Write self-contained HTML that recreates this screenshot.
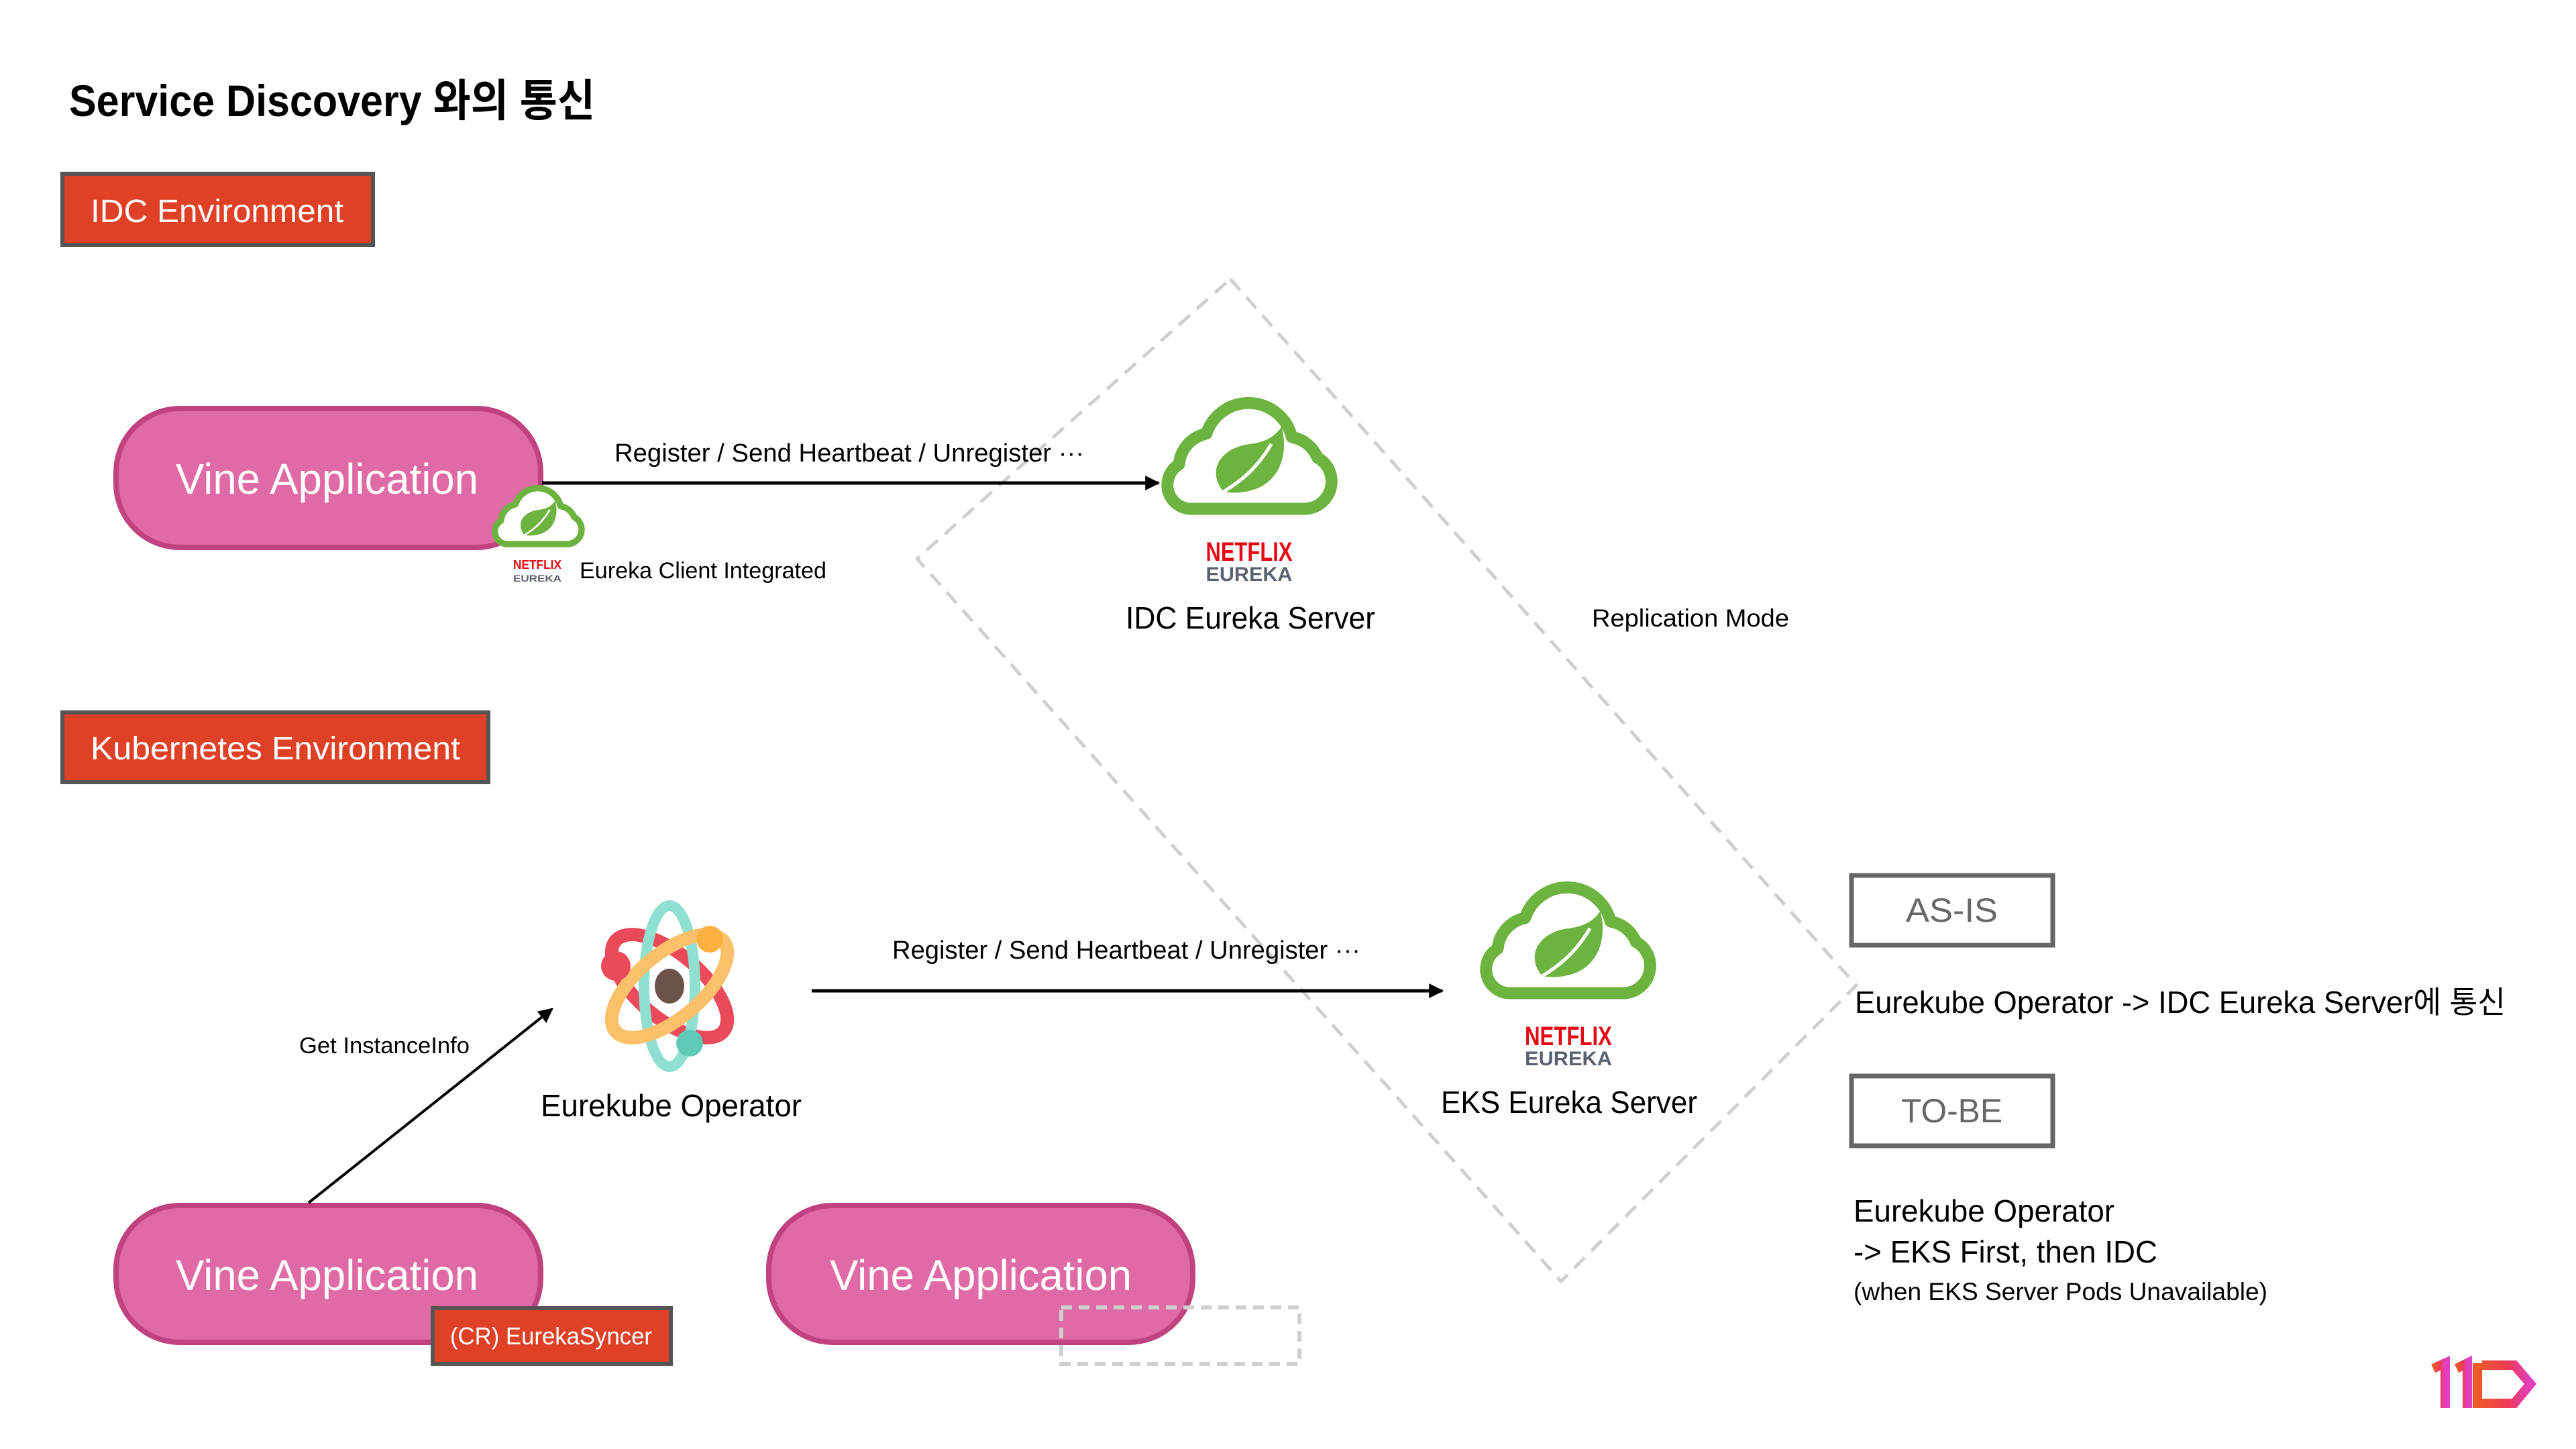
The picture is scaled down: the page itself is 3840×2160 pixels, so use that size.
<!DOCTYPE html>
<html><head><meta charset="utf-8"><style>
html,body{margin:0;padding:0;background:#fff;}
svg{display:block;}
text{font-family:"Liberation Sans","Noto Sans CJK KR",sans-serif;}
</style></head><body>
<svg width="3840" height="2160" viewBox="0 0 3840 2160" xmlns="http://www.w3.org/2000/svg">
<defs>
<marker id="ah" markerWidth="10" markerHeight="10" refX="9" refY="5" orient="auto" markerUnits="userSpaceOnUse" viewBox="0 0 10 10">
<path d="M0,0 L10,5 L0,10 z" fill="#000"/></marker>
<marker id="ah2" viewBox="0 0 10 10" refX="9" refY="5" markerWidth="22" markerHeight="22" orient="auto" markerUnits="userSpaceOnUse"><path d="M0,0 L10,5 L0,10 z" fill="#000"/></marker>
<symbol id="cloud" viewBox="0 0 110 76">
<path d="M22,70 H88 A16,16 0 0 0 95,40 A20,20 0 0 0 80,28 A26,26 0 0 0 30,26 A20,20 0 0 0 14,44 A14,14 0 0 0 22,70 Z" fill="#fff" stroke="#6db33f" stroke-width="7" stroke-linejoin="round"/>
<path d="M40,60 C30,48 38,34 56,32 C64,31 70,28 74,22 C78,36 74,52 60,58 C52,61 46,61 40,60 Z" fill="#6db33f"/>
<path d="M40,60 C50,54 60,46 68,32" fill="none" stroke="#fff" stroke-width="2"/>
</symbol>
<linearGradient id="lg" x1="0" x2="1" y1="0" y2="0"><stop offset="0" stop-color="#f05a28"/><stop offset="0.6" stop-color="#ee3a5a"/><stop offset="1" stop-color="#e040c0"/></linearGradient>
</defs>

<!-- title -->
<text x="103" y="173" font-size="66" font-weight="bold" textLength="784" lengthAdjust="spacingAndGlyphs">Service Discovery 와의 통신</text>

<!-- env labels -->
<rect x="93" y="259" width="463" height="106" fill="#df4126" stroke="#555" stroke-width="6"/>
<text x="135" y="331" font-size="48" fill="#fff" textLength="377" lengthAdjust="spacingAndGlyphs">IDC Environment</text>
<rect x="93" y="1062" width="635" height="104" fill="#df4126" stroke="#555" stroke-width="6"/>
<text x="135" y="1132" font-size="48" fill="#fff" textLength="551" lengthAdjust="spacingAndGlyphs">Kubernetes Environment</text>

<!-- dashed diamond -->
<path d="M1834,416 L2767,1469 L2327,1910 L1367,833 Z" fill="none" stroke="#cfcfcf" stroke-width="5" stroke-dasharray="22 14"/>

<!-- pills -->
<rect x="173" y="609" width="633" height="207" rx="95" fill="#e06aa6" stroke="#c0427f" stroke-width="8"/>
<text x="262" y="736" font-size="64" fill="#fff" textLength="451" lengthAdjust="spacingAndGlyphs">Vine Application</text>
<rect x="173" y="1797" width="633" height="204" rx="95" fill="#e06aa6" stroke="#c0427f" stroke-width="8"/>
<text x="262" y="1923" font-size="64" fill="#fff" textLength="451" lengthAdjust="spacingAndGlyphs">Vine Application</text>
<rect x="1146" y="1797" width="632" height="204" rx="95" fill="#e06aa6" stroke="#c0427f" stroke-width="8"/>
<text x="1237" y="1923" font-size="64" fill="#fff" textLength="450" lengthAdjust="spacingAndGlyphs">Vine Application</text>
<rect x="1582" y="1949" width="355" height="84" fill="none" stroke="#cfcfcf" stroke-width="6" stroke-dasharray="16 10"/>

<!-- CR box -->
<rect x="645" y="1950" width="355" height="83" fill="#df4126" stroke="#555" stroke-width="6"/>
<text x="671" y="2004" font-size="36" fill="#fff" textLength="301" lengthAdjust="spacingAndGlyphs">(CR) EurekaSyncer</text>

<!-- small spring client icon -->
<use href="#cloud" x="728" y="716" width="148" height="104"/>
<text x="801" y="848" font-size="18" font-weight="bold" fill="#e50914" text-anchor="middle" textLength="72" lengthAdjust="spacingAndGlyphs">NETFLIX</text>
<text x="801" y="867" font-size="14" font-weight="bold" fill="#5a6270" text-anchor="middle" textLength="72" lengthAdjust="spacingAndGlyphs">EUREKA</text>
<text x="864" y="862" font-size="34" textLength="368" lengthAdjust="spacingAndGlyphs">Eureka Client Integrated</text>

<!-- arrow 1 -->
<line x1="808" y1="720" x2="1727" y2="720" stroke="#000" stroke-width="5" marker-end="url(#ah2)"/>
<text x="916" y="688" font-size="38" textLength="700" lengthAdjust="spacingAndGlyphs">Register / Send Heartbeat / Unregister ···</text>

<!-- IDC Eureka -->
<use href="#cloud" x="1722" y="580" width="280" height="194"/>
<text x="1862" y="836" font-size="40" font-weight="bold" fill="#e50914" text-anchor="middle" textLength="129" lengthAdjust="spacingAndGlyphs">NETFLIX</text>
<text x="1862" y="866" font-size="30" font-weight="bold" fill="#5a6270" text-anchor="middle" textLength="129" lengthAdjust="spacingAndGlyphs">EUREKA</text>
<text x="1678" y="937" font-size="46" textLength="372" lengthAdjust="spacingAndGlyphs">IDC Eureka Server</text>
<text x="2373" y="934" font-size="37" textLength="294" lengthAdjust="spacingAndGlyphs">Replication Mode</text>

<!-- atom -->
<g transform="translate(998,1470)">
<ellipse cx="0" cy="0" rx="105" ry="48" fill="none" stroke="#ea4a5a" stroke-width="20" transform="rotate(40)"/>
<ellipse cx="0" cy="0" rx="38" ry="120" fill="none" stroke="#8fe0d0" stroke-width="16"/>
<ellipse cx="0" cy="0" rx="105" ry="48" fill="none" stroke="#fbc06a" stroke-width="20" transform="rotate(-40)"/>
<circle cx="-80" cy="-30" r="22" fill="#ea4a5a"/>
<circle cx="60" cy="-70" r="20" fill="#fbb040"/>
<circle cx="30" cy="85" r="20" fill="#5fcab8"/>
<ellipse cx="0" cy="0" rx="22" ry="26" fill="#6b534a"/>
</g>
<text x="806" y="1664" font-size="46" textLength="389" lengthAdjust="spacingAndGlyphs">Eurekube Operator</text>

<!-- arrow 2 -->
<line x1="1210" y1="1477" x2="2150" y2="1477" stroke="#000" stroke-width="5" marker-end="url(#ah2)"/>
<text x="1330" y="1429" font-size="38" textLength="698" lengthAdjust="spacingAndGlyphs">Register / Send Heartbeat / Unregister ···</text>

<!-- get instance -->
<line x1="460" y1="1793" x2="823" y2="1504" stroke="#000" stroke-width="4" marker-end="url(#ah2)"/>
<text x="446" y="1570" font-size="34" textLength="254" lengthAdjust="spacingAndGlyphs">Get InstanceInfo</text>

<!-- EKS Eureka -->
<use href="#cloud" x="2197" y="1302" width="280" height="194"/>
<text x="2338" y="1558" font-size="40" font-weight="bold" fill="#e50914" text-anchor="middle" textLength="130" lengthAdjust="spacingAndGlyphs">NETFLIX</text>
<text x="2338" y="1588" font-size="30" font-weight="bold" fill="#5a6270" text-anchor="middle" textLength="130" lengthAdjust="spacingAndGlyphs">EUREKA</text>
<text x="2148" y="1659" font-size="46" textLength="382" lengthAdjust="spacingAndGlyphs">EKS Eureka Server</text>

<!-- AS-IS / TO-BE -->
<rect x="2760" y="1305" width="300" height="104" fill="none" stroke="#666" stroke-width="7"/>
<text x="2841" y="1374" font-size="50" fill="#666" textLength="137" lengthAdjust="spacingAndGlyphs">AS-IS</text>
<text x="2765" y="1510" font-size="46" textLength="970" lengthAdjust="spacingAndGlyphs">Eurekube Operator -&gt; IDC Eureka Server에 통신</text>
<rect x="2760" y="1604" width="300" height="104" fill="none" stroke="#666" stroke-width="7"/>
<text x="2834" y="1673" font-size="50" fill="#666" textLength="151" lengthAdjust="spacingAndGlyphs">TO-BE</text>
<text x="2763" y="1821" font-size="46" textLength="389" lengthAdjust="spacingAndGlyphs">Eurekube Operator</text>
<text x="2763" y="1882" font-size="46" textLength="453" lengthAdjust="spacingAndGlyphs">-&gt; EKS First, then IDC</text>
<text x="2763" y="1938" font-size="37" textLength="617" lengthAdjust="spacingAndGlyphs">(when EKS Server Pods Unavailable)</text>

<!-- 11st logo -->
<g fill="none" stroke="url(#lg)" stroke-width="14" stroke-linejoin="miter">
<path d="M3627,2040 L3645,2032 L3645,2099"/>
<path d="M3662,2040 L3678,2032 L3678,2099"/>
<path d="M3693,2032 L3693,2092 L3748,2092 L3772,2063 L3748,2035 L3700,2035"/>
</g>
</svg>
</body></html>
